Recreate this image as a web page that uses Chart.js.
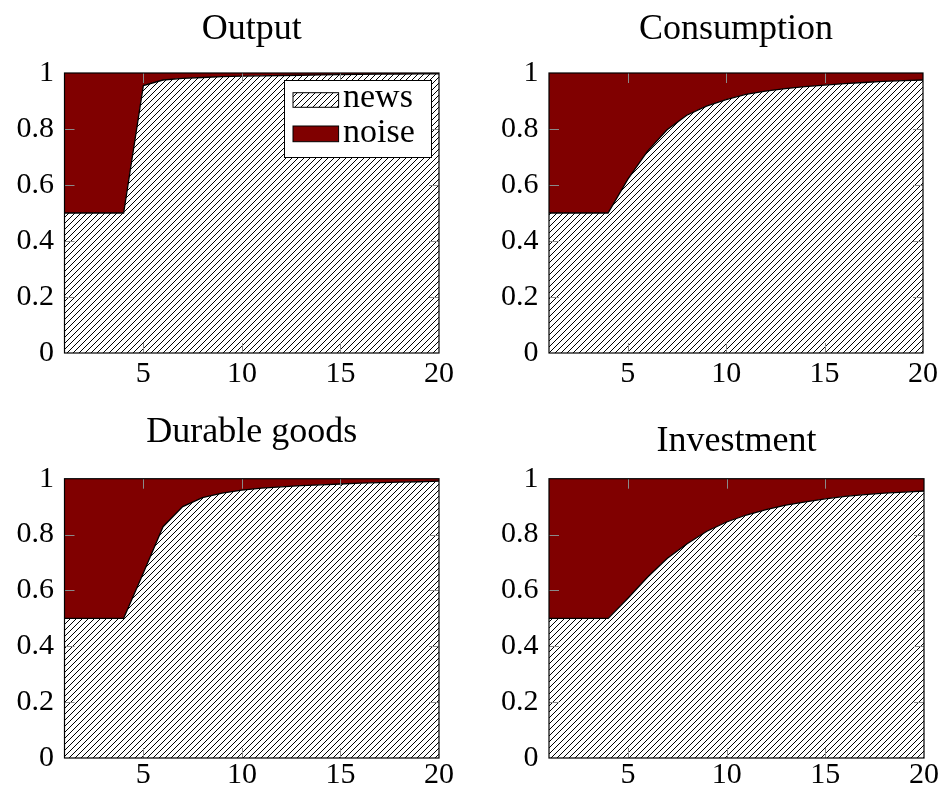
<!DOCTYPE html>
<html><head><meta charset="utf-8">
<script src="https://cdn.jsdelivr.net/npm/chart.js@4/dist/chart.umd.min.js"></script>
<style>
html,body{margin:0;padding:0;background:#fff;}
#wrap{position:relative;width:941px;height:795px;overflow:hidden;background:#fff;}
canvas{position:absolute;display:block;}
</style></head><body>
<div id="wrap">
<canvas id="c0" width="470" height="395" style="left:0px;top:0px;width:470px;height:395px"></canvas>
<canvas id="c1" width="471" height="395" style="left:470px;top:0px;width:471px;height:395px"></canvas>
<canvas id="c2" width="470" height="400" style="left:0px;top:395px;width:470px;height:400px"></canvas>
<canvas id="c3" width="471" height="400" style="left:470px;top:395px;width:471px;height:400px"></canvas>
</div>
<script>
// ---- data ----
const xValues = [1,2,3,4,5,6,7,8,9,10,11,12,13,14,15,16,17,18,19,20];
const xTicks = [5,10,15,20];
const yTicks = [0,0.2,0.4,0.6,0.8,1];
const titles = ['Output','Consumption','Durable goods','Investment'];
const seriesNames = ['news','noise'];

const newsOutput  = [0.5,0.5,0.5,0.5,0.955,0.975,0.981,0.984,0.987,0.989,0.990,0.991,0.992,0.993,0.994,0.995,0.996,0.996,0.997,0.997];
const noiseOutput = [0.5,0.5,0.5,0.5,0.045,0.025,0.019,0.016,0.013,0.011,0.010,0.009,0.008,0.007,0.006,0.005,0.004,0.004,0.003,0.003];

const newsConsumption  = [0.5,0.5,0.5,0.5,0.62,0.72,0.797,0.849,0.882,0.905,0.924,0.935,0.944,0.951,0.957,0.962,0.966,0.970,0.973,0.975];
const noiseConsumption = [0.5,0.5,0.5,0.5,0.38,0.28,0.203,0.151,0.118,0.095,0.076,0.065,0.056,0.049,0.043,0.038,0.034,0.030,0.027,0.025];

const newsDurable  = [0.5,0.5,0.5,0.5,0.662,0.828,0.900,0.932,0.948,0.959,0.966,0.971,0.975,0.978,0.981,0.984,0.986,0.988,0.989,0.991];
const noiseDurable = [0.5,0.5,0.5,0.5,0.338,0.172,0.100,0.068,0.052,0.041,0.034,0.029,0.025,0.022,0.019,0.016,0.014,0.012,0.011,0.009];

const newsInvestment  = [0.5,0.5,0.5,0.5,0.572,0.648,0.715,0.767,0.812,0.845,0.870,0.889,0.905,0.917,0.928,0.937,0.943,0.948,0.952,0.956];
const noiseInvestment = [0.5,0.5,0.5,0.5,0.428,0.352,0.285,0.233,0.188,0.155,0.130,0.111,0.095,0.083,0.072,0.063,0.057,0.052,0.048,0.044];

// ---- styling ----
const FONT = "'Liberation Serif', 'DejaVu Serif', serif";
const NOISE_COLOR = '#800000';

function makeHatch(ctx){
  const s = 6;
  const c = document.createElement('canvas');
  c.width = s; c.height = s;
  const g = c.getContext('2d');
  g.fillStyle = '#fff'; g.fillRect(0,0,s,s);
  g.strokeStyle = '#000'; g.lineWidth = 1;
  g.beginPath();
  g.moveTo(-1, s+1); g.lineTo(s+1, -1);
  g.moveTo(-1, 1); g.lineTo(1, -1);
  g.moveTo(s-1, s+1); g.lineTo(s+1, s-1);
  g.stroke();
  return ctx.createPattern(c, 'repeat');
}

const framePlugin = {
  id: 'frame',
  afterDatasetsDraw(chart){
    const ctx = chart.ctx, a = chart.chartArea;
    const xs = chart.scales.x, ys = chart.scales.y;
    ctx.save();
    ctx.strokeStyle = '#8a8a8a';
    ctx.lineWidth = 1;
    const L = 10;
    ctx.beginPath();
    xTicks.forEach(v => {
      const px = Math.round(xs.getPixelForValue(v)) + 0.5;
      if (px <= a.left + 1 || px >= a.right - 1) return;
      ctx.moveTo(px, a.bottom); ctx.lineTo(px, a.bottom - L);
      ctx.moveTo(px, a.top); ctx.lineTo(px, a.top + L);
    });
    yTicks.forEach(v => {
      const py = Math.round(ys.getPixelForValue(v)) + 0.5;
      if (py <= a.top + 1 || py >= a.bottom - 1) return;
      ctx.moveTo(a.left, py); ctx.lineTo(a.left + L, py);
      ctx.moveTo(a.right, py); ctx.lineTo(a.right - L, py);
    });
    ctx.stroke();
    ctx.strokeStyle = '#000';
    ctx.lineWidth = 1.2;
    ctx.strokeRect(a.left, a.top, a.right - a.left, a.bottom - a.top);
    ctx.restore();
  }
};

const legendPlugin = {
  id: 'innerLegend',
  afterDraw(chart){
    const ctx = chart.ctx, a = chart.chartArea;
    const w = 147, h = 77;
    const x0 = a.right - 8 - w, y0 = a.top + 7;
    ctx.save();
    ctx.fillStyle = '#fff';
    ctx.fillRect(x0, y0, w, h);
    ctx.strokeStyle = '#000'; ctx.lineWidth = 1;
    ctx.strokeRect(x0 + 0.5, y0 + 0.5, w, h);
    const ds = chart.data.datasets;
    const rows = [{sy: 12.7, sh: 14.6, base: 26.7}, {sy: 46, sh: 15.7, base: 61.7}];
    ds.forEach((d, i) => {
      const r = rows[i];
      ctx.fillStyle = d.backgroundColor;
      ctx.fillRect(x0 + 9, y0 + r.sy, 45.6, r.sh);
      ctx.strokeStyle = '#000'; ctx.lineWidth = 1;
      ctx.strokeRect(x0 + 9, y0 + r.sy, 45.6, r.sh);
      ctx.fillStyle = '#000';
      ctx.font = '34px ' + FONT;
      ctx.textBaseline = 'alphabetic';
      ctx.textAlign = 'left';
      ctx.fillText(d.label, x0 + 59, y0 + r.base);
    });
    ctx.restore();
  }
};

const panels = [
  {id:'c0', title:titles[0], news:newsOutput, noise:noiseOutput, legend:true,
   yWidth:64.5, padRight:31, titlePad:{top:7.6, bottom:22.2}, xHeight:42, xPad:3},
  {id:'c1', title:titles[1], news:newsConsumption, noise:noiseConsumption, legend:false,
   yWidth:79, padRight:17, titlePad:{top:7.6, bottom:22.2}, xHeight:42, xPad:3},
  {id:'c2', title:titles[2], news:newsDurable, noise:noiseDurable, legend:false,
   yWidth:64.5, padRight:31, titlePad:{top:16, bottom:24.5}, xHeight:37, xPad:-1},
  {id:'c3', title:titles[3], news:newsInvestment, noise:noiseInvestment, legend:false,
   yWidth:79, padRight:17, titlePad:{top:25, bottom:15.5}, xHeight:37, xPad:-1}
];

panels.forEach(p => {
  const ctx = document.getElementById(p.id).getContext('2d');
  const hatch = makeHatch(ctx);
  const tickFont = {family: FONT, size: 30};
  new Chart(ctx, {
    type: 'line',
    data: {
      datasets: [
        {label: seriesNames[0], data: xValues.map((x,i) => ({x: x, y: p.news[i]})),
         fill: 'origin', backgroundColor: hatch, borderColor: '#000', borderWidth: 1.3,
         pointRadius: 0, tension: 0},
        {label: seriesNames[1], data: xValues.map((x,i) => ({x: x, y: p.noise[i]})),
         fill: '-1', backgroundColor: NOISE_COLOR, borderColor: NOISE_COLOR, borderWidth: 0,
         pointRadius: 0, tension: 0}
      ]
    },
    options: {
      responsive: false,
      animation: false,
      devicePixelRatio: 1,
      events: [],
      layout: {padding: {left: 0, right: p.padRight, top: 0, bottom: 0}},
      plugins: {
        legend: {display: false},
        tooltip: {enabled: false},
        title: {display: true, text: p.title, color: '#000', fullSize: false,
                font: {family: FONT, size: 36, weight: 'normal', lineHeight: 1.2},
                padding: p.titlePad}
      },
      scales: {
        x: {
          type: 'linear', min: 1, max: 20,
          grid: {display: false, drawTicks: false},
          border: {display: false},
          afterBuildTicks: s => { s.ticks = xTicks.map(v => ({value: v})); },
          afterFit: s => { s.height = p.xHeight; },
          ticks: {font: tickFont, color: '#000', padding: p.xPad, maxRotation: 0, autoSkip: false,
                  callback: v => String(v)}
        },
        y: {
          stacked: true, min: 0, max: 1,
          grid: {display: false, drawTicks: false},
          border: {display: false},
          afterBuildTicks: s => { s.ticks = yTicks.map(v => ({value: v})); },
          afterFit: s => { s.width = p.yWidth; },
          ticks: {font: tickFont, color: '#000', padding: 10.5, autoSkip: false,
                  callback: v => String(v)}
        }
      }
    },
    plugins: p.legend ? [framePlugin, legendPlugin] : [framePlugin]
  });
});
</script>
</body></html>
